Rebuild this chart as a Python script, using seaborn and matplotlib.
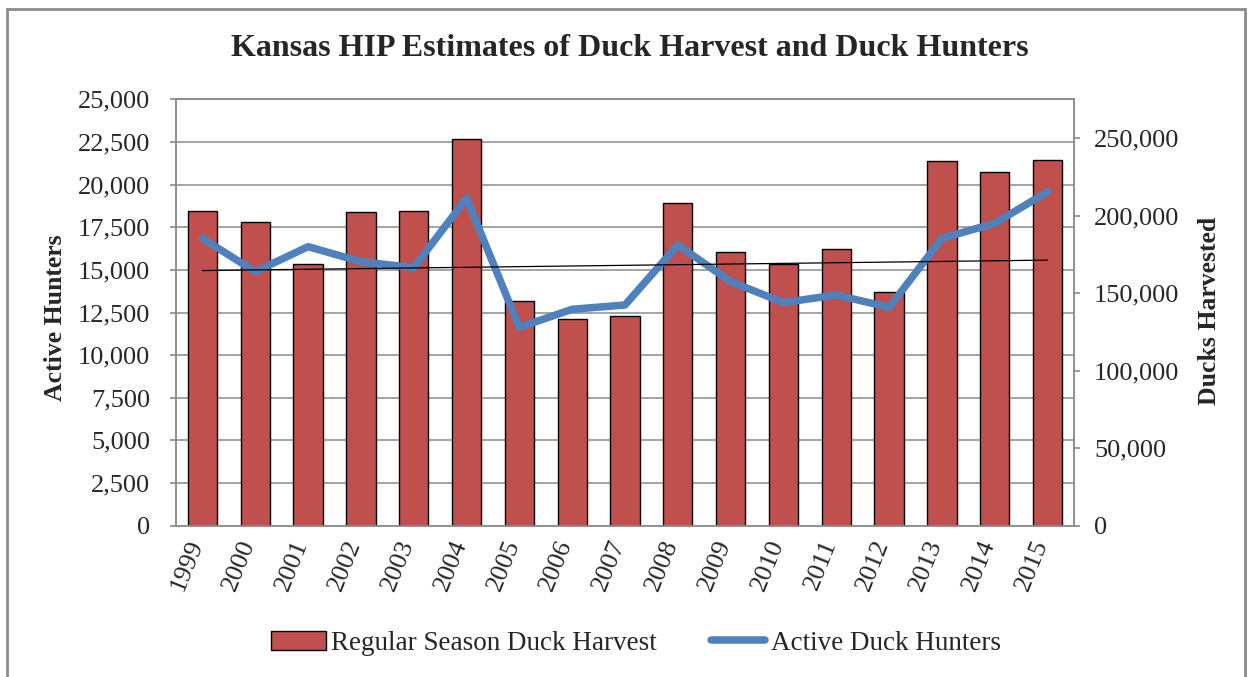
import numpy as np
import matplotlib
matplotlib.use("Agg")
import matplotlib.pyplot as plt
import matplotlib.transforms as mtransforms
import seaborn as sns
from matplotlib.patches import Patch, Rectangle
from matplotlib.lines import Line2D
from matplotlib.ticker import MultipleLocator, FixedLocator, FuncFormatter

# Data
years = ["1999", "2000", "2001", "2002", "2003", "2004", "2005", "2006", "2007",
         "2008", "2009", "2010", "2011", "2012", "2013", "2014", "2015"]
ducks_harvested = [203000, 195700, 168600, 202100, 203000, 249400, 145100, 133500, 135200,
                   207900, 176500, 168600, 178300, 150900, 235200, 227900, 236000]
active_hunters = [16850, 14890, 16360, 15480, 15130, 19200, 11630, 12690, 12940,
                  16460, 14310, 13080, 13530, 12800, 16850, 17730, 19580]

bar_color = "#C0504D"
line_color = "#4F81BD"
grid_color = "#8C8C8C"

sns.set_theme(style="white")
plt.rcParams['font.family'] = ['Liberation Serif', 'DejaVu Serif']

fig = plt.figure(figsize=(12.52, 6.77), dpi=100)
ax = fig.add_axes([176 / 1252, 1 - 525.7 / 677, (1074 - 176) / 1252, (525.7 - 99.3) / 677])
ax2 = ax.twinx()

# Bars on the primary axes (harvest, shown on the right)
sns.barplot(x=years, y=ducks_harvested, ax=ax, color=bar_color, saturation=1,
            edgecolor="black", linewidth=1, width=0.555, zorder=2)

# Hunters line and its linear trend on the twin axes (shown on the left)
sns.pointplot(x=years, y=active_hunters, ax=ax2, color=line_color, markers="",
              linewidth=5.4, solid_capstyle="round", solid_joinstyle="round")
sns.regplot(x=np.arange(len(years)), y=active_hunters, ax=ax2, scatter=False, ci=None,
            truncate=True, color="black", line_kws={"linewidth": 0.9})

ax.set_ylim(0, 275000)
ax2.set_ylim(0, 25000)
ax.set_xlim(-0.5, len(years) - 0.5)

# Swap sides: hunters on left, harvest on right
ax.yaxis.tick_right()
ax2.yaxis.tick_left()
ax.yaxis.set_major_locator(MultipleLocator(50000))
ax2.yaxis.set_major_locator(MultipleLocator(2500))
fmt = FuncFormatter(lambda v, p: f"{int(round(v)):,}")
ax.yaxis.set_major_formatter(fmt)
ax2.yaxis.set_major_formatter(fmt)

# Gridlines follow the left (hunter) scale, drawn behind the bars
ax.yaxis.set_minor_locator(MultipleLocator(27500))
ax.grid(axis="y", which="minor", color=grid_color, linewidth=1.1, zorder=0)
ax.grid(axis="y", which="major", visible=False)
ax.set_axisbelow(True)

ax.xaxis.set_minor_locator(FixedLocator(np.arange(-0.5, len(years), 1.0)))
ax.set_xticks(range(len(years)))
ax.set_xticklabels(years)

for a in (ax, ax2):
    for s in a.spines.values():
        s.set_color(grid_color)
        s.set_linewidth(1.1)

ax.tick_params(axis="y", which="major", length=4.5, color=grid_color, labelsize=19, pad=10)
ax.tick_params(axis="y", which="minor", length=0)
ax2.tick_params(axis="y", length=4.5, color=grid_color, labelsize=19, pad=14)
ax.tick_params(axis="x", which="major", length=0, labelsize=19, pad=8)
ax.tick_params(axis="x", which="minor", length=6, color=grid_color, width=1.1)
shift = mtransforms.ScaledTranslation(-16 / 100, 0, fig.dpi_scale_trans)
for lab in ax.get_xticklabels():
    lab.set_rotation(68)
    lab.set_ha("right")
    lab.set_rotation_mode("anchor")
    lab.set_transform(lab.get_transform() + shift)

ax.set_xlabel("")
ax.set_ylabel("")
ax2.set_xlabel("")
ax2.set_ylabel("")

fig.text(630 / 1252, 1 - 48 / 677, "Kansas HIP Estimates of Duck Harvest and Duck Hunters",
         ha="center", va="center", fontsize=23, fontweight="bold")
fig.text(56 / 1252, 1 - 318 / 677, "Active Hunters", rotation=90, ha="center", va="center",
         fontsize=18.5, fontweight="bold")
fig.text(1209 / 1252, 1 - 311 / 677, "Ducks Harvested", rotation=90, ha="center", va="center",
         fontsize=18.5, fontweight="bold")

handles = [Patch(facecolor=bar_color, edgecolor="black", linewidth=1),
           Line2D([], [], color=line_color, linewidth=5.4, solid_capstyle="round")]
fig.legend(handles, ["Regular Season Duck Harvest", "Active Duck Hunters"],
           loc="center", bbox_to_anchor=(636 / 1252, 1 - 643 / 677), ncol=2, frameon=False,
           fontsize=19.5, handlelength=2.0, handletextpad=0.2, columnspacing=2.0)

# Chart-area border
fig.patches.append(Rectangle((7 / 1252, -0.02), (1245 - 7) / 1252, 1.02 - 9 / 677,
                             transform=fig.transFigure, fill=False,
                             edgecolor="#8C8C8C", linewidth=2))

fig.savefig("out.png", dpi=100)
